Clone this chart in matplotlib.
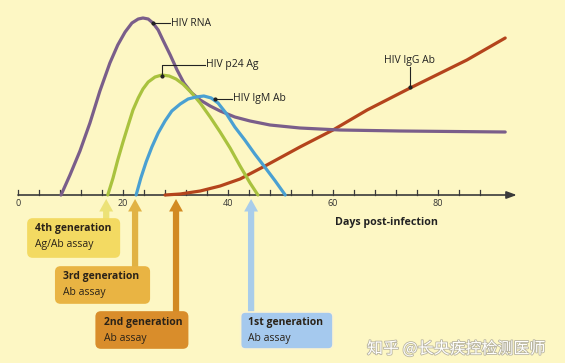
import matplotlib
matplotlib.use("Agg")
import matplotlib.pyplot as plt
from matplotlib.patches import FancyBboxPatch
import matplotlib.patheffects as pe

plt.rcParams['font.family'] = ['Open Sans', 'DejaVu Sans']

# ---- data (days post-infection, relative level) ----
rna_days = [8.2, 9.9, 11.8, 13.7, 15.6, 17.5, 19.0, 20.4, 21.7, 22.9, 23.8, 24.8, 25.7, 26.7,
            27.6, 29.0, 30.3, 31.6, 33.1, 34.7, 36.6, 38.5, 41.3, 44.2, 48.0, 53.7, 61.3, 72.8, 92.8]
rna_vals = [0, 20, 44, 72, 104, 132, 150, 163, 172, 176, 177, 176, 172, 165,
            155, 140, 125, 112, 102, 95, 89, 84, 78, 74, 70, 67, 65, 64, 63]

p24_days = [17.1, 18.1, 19.0, 20.0, 21.0, 21.9, 22.9, 23.8, 24.8, 26.1, 27.4, 28.8, 30.1, 31.4,
            33.1, 34.7, 36.6, 38.5, 40.4, 42.3, 44.2, 45.7]
p24_vals = [0, 17, 35, 53, 70, 85, 97, 106, 113, 118, 120, 119, 116, 111,
            102, 92, 78, 63, 47, 29, 12, 0]

igm_days = [22.5, 23.4, 24.4, 25.5, 26.7, 28.0, 29.3, 30.9, 32.4, 33.9, 35.4, 36.8, 38.1, 39.6,
            41.3, 43.2, 45.1, 47.0, 49.0, 50.9]
igm_vals = [0, 17, 33, 48, 62, 74, 84, 91, 96, 98, 99, 97, 92, 82,
            68, 55, 41, 28, 14, 0]

igg_days = [28.0, 30.9, 34.7, 38.5, 42.3, 47.4, 53.7, 60.0, 66.5, 74.7, 85.5, 92.8]
igg_vals = [0, 1, 4, 9, 16, 30, 48, 65, 85, 107, 135, 157]

tick_days = list(range(0, 89, 4))
label_days = [0, 20, 40, 60, 80]

assay_names = ["4th generation", "3rd generation", "2nd generation", "1st generation"]
assay_types = ["Ag/Ab assay", "Ab assay", "Ab assay", "Ab assay"]
assay_days = [16.8, 22.3, 30.1, 44.4]

# ---- figure ----
W, H = 565, 363
fig = plt.figure(figsize=(W / 100, H / 100), dpi=100)
bg = '#fdf7c4'
fig.patch.set_facecolor(bg)
ax = fig.add_axes([0, 0, 1, 1])
ax.set_facecolor(bg)
PX = 5.25  # px per day
ax.set_xlim(-18 / PX, (W - 18) / PX)
ax.set_ylim(195 - H, 195)
ax.axis('off')

# axis line with arrow
axc = '#3a3a3a'
ax.annotate('', xy=(95.0, 0), xytext=(0, 0),
            arrowprops=dict(arrowstyle='-|>,head_length=0.6,head_width=0.22', color=axc, lw=1.2,
                            shrinkA=0, shrinkB=0))
for d in tick_days:
    ax.plot([d, d], [0, 5], color=axc, lw=0.9)
for d in label_days:
    ax.text(d, -8, str(d), ha='center', va='center', fontsize=6.5, color='#333333')
ax.text(335 / PX - 18 / PX, -28, 'Days post-infection', ha='left', va='center',
        fontsize=7.7, fontweight='bold', color='#222222')

# curves
lw = 2.3
kw = dict(lw=lw, solid_capstyle='round', solid_joinstyle='round')
ax.plot(igg_days, igg_vals, color='#b4441c', zorder=3, **kw)
ax.plot(rna_days, rna_vals, color='#7a5e8a', zorder=4, **kw)
ax.plot(p24_days, p24_vals, color='#a9c23e', zorder=4, **kw)
ax.plot(igm_days, igm_vals, color='#4aa0d2', zorder=4, **kw)

# labels with leader lines
lc = '#222222'
fs = 7.5
# HIV RNA
ax.plot([25.7, 29.0], [172, 172], color=lc, lw=0.8, zorder=5)
ax.plot([25.7], [172], 'o', color=lc, ms=2, zorder=5)
ax.text(29.2, 172, 'HIV RNA', fontsize=fs, va='center', ha='left', color=lc)
# HIV p24 Ag
ax.plot([27.4, 27.4, 35.6], [119, 130, 130], color=lc, lw=0.8, zorder=5)
ax.plot([27.4], [119], 'o', color=lc, ms=2, zorder=5)
ax.text(35.8, 130, 'HIV p24 Ag', fontsize=fs, va='center', ha='left', color=lc)
# HIV IgM Ab
ax.plot([37.5, 40.8], [96, 96], color=lc, lw=0.8, zorder=5)
ax.plot([37.5], [96], 'o', color=lc, ms=2, zorder=5)
ax.text(41.0, 96, 'HIV IgM Ab', fontsize=fs, va='center', ha='left', color=lc)
# HIV IgG Ab
ax.plot([74.7, 74.7], [128, 108], color=lc, lw=0.8, zorder=5)
ax.plot([74.7], [108], 'o', color=lc, ms=2, zorder=5)
ax.text(74.5, 135, 'HIV IgG Ab', fontsize=fs, va='center', ha='center', color=lc)

# assay boxes and arrows
box_cols = ['#f3da62', '#e9b443', '#d98d2b', '#a5c9ee']
arrow_cols = ['#ece277', '#e1b244', '#d28a22', '#a9cdea']
# box extents in data units (x0, x1, y0, y1)
boxes = [(1.9, 19.3, -62, -24), (7.2, 25.0, -108, -72), (14.9, 32.3, -153, -117), (42.4, 60.0, -154, -117)]
for name, typ, d, col, acol, (x0, x1, y0, y1) in zip(assay_names, assay_types, assay_days,
                                                     box_cols, arrow_cols, boxes):
    ax.annotate('', xy=(d, -4), xytext=(d, y1),
                arrowprops=dict(arrowstyle='simple,head_length=0.9,head_width=1.0,tail_width=0.45',
                                color=acol, lw=0, shrinkA=0, shrinkB=0), zorder=2)
    p = FancyBboxPatch((x0, y0), x1 - x0, y1 - y0,
                       boxstyle='round,pad=0,rounding_size=0.9', mutation_aspect=5.25,
                       facecolor=col, edgecolor='#fbf3d0' if col == '#a5c9ee' else col,
                       lw=1.2, zorder=3)
    ax.add_patch(p)
    ax.text(x0 + 1.4, y1 - 10, name, fontsize=7.5, fontweight='bold', color='#2a2218',
            va='center', ha='left', zorder=4)
    ax.text(x0 + 1.4, y1 - 26, typ, fontsize=7.5, color='#2a2218', va='center', ha='left', zorder=4)

# watermark
fig.text(367 / W, 1 - 349 / H, '知乎 @长央疾控检测医师', fontsize=11.5, color='white',
         family=['Noto Sans CJK SC', 'DejaVu Sans'], va='center', ha='left',
         path_effects=[pe.withStroke(linewidth=1.2, foreground='#b8b4a0')])

fig.savefig('out.png', dpi=100, facecolor=bg)
